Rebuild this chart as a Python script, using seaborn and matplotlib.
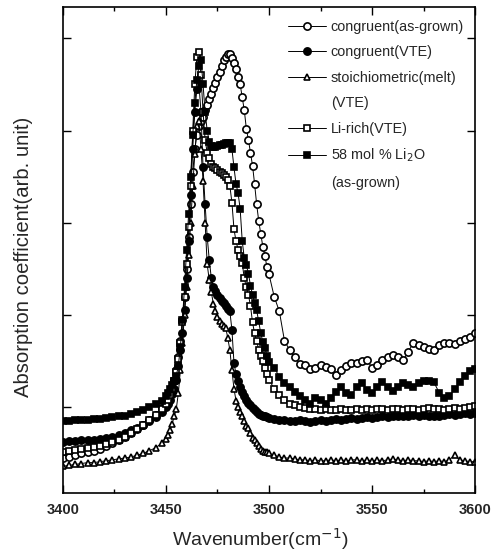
import numpy as np
import pandas as pd
import matplotlib
matplotlib.use("Agg")
import matplotlib.pyplot as plt
from matplotlib.lines import Line2D
import seaborn as sns

# Wavenumber sampling: coarse on the flat wings, dense across the OH band
wn_left = np.arange(3400, 3449, 3.0)      # 3400 ... 3448
wn_peak = np.arange(3450, 3500, 1.0)      # 3450 ... 3499
wn_right = np.arange(3500, 3600.1, 2.5)   # 3500 ... 3600
wavenumber = np.concatenate([wn_left, wn_peak, wn_right])

congruent_asgrown = [
    0.45, 0.46, 0.48, 0.50, 0.52, 0.53, 0.55, 0.58, 0.61, 0.64, 0.68, 0.72, 0.76, 0.81, 0.86, 0.92, 0.99,
    1.05, 1.10, 1.15, 1.22, 1.30, 1.40, 1.55, 1.72, 1.95, 2.20,
    2.50, 2.85, 3.20, 3.55, 3.80, 3.95, 4.05, 4.10, 4.15, 4.22,
    4.28, 4.34, 4.40, 4.46, 4.52, 4.58, 4.64, 4.70, 4.76, 4.80,
    4.83, 4.83, 4.79, 4.73, 4.67, 4.58, 4.50, 4.36, 4.22, 4.02,
    3.90, 3.76, 3.62, 3.42, 3.20, 3.02, 2.88, 2.74, 2.64, 2.52,
    2.44, 2.20, 2.04, 1.72, 1.62, 1.54, 1.47, 1.46, 1.42, 1.43,
    1.46, 1.44, 1.41, 1.35, 1.40, 1.45, 1.48, 1.48,
    1.50, 1.51, 1.43, 1.46, 1.51, 1.55, 1.57, 1.54,
    1.51, 1.60, 1.70, 1.68, 1.65, 1.63, 1.62, 1.67,
    1.70, 1.70, 1.69, 1.72, 1.74, 1.76, 1.80,
]

congruent_vte = [
    0.62, 0.63, 0.63, 0.64, 0.64, 0.65, 0.66, 0.67, 0.68, 0.70, 0.72, 0.75, 0.78, 0.81, 0.85, 0.89, 0.95,
    1.00, 1.04, 1.08, 1.14, 1.20, 1.30, 1.45, 1.62, 1.80, 2.05,
    2.40, 2.80, 3.30, 3.80, 4.20, 4.45, 4.50, 4.20, 3.60, 3.20,
    2.85, 2.60, 2.40, 2.30, 2.26, 2.22, 2.18, 2.15, 2.13, 2.10,
    2.07, 2.04, 1.84, 1.48, 1.36, 1.28, 1.22, 1.17, 1.12, 1.08,
    1.05, 1.02, 0.99, 0.97, 0.95, 0.93, 0.92, 0.91, 0.90, 0.89,
    0.88, 0.87, 0.86, 0.86, 0.85, 0.85, 0.86, 0.85, 0.84, 0.85,
    0.86, 0.85, 0.86, 0.87, 0.86, 0.87, 0.88, 0.87,
    0.88, 0.89, 0.88, 0.89, 0.90, 0.89, 0.90, 0.91,
    0.90, 0.91, 0.92, 0.91, 0.92, 0.91, 0.90, 0.91,
    0.92, 0.93, 0.92, 0.93, 0.94, 0.93, 0.94,
]

stoichiometric_vte = [
    0.36, 0.37, 0.38, 0.39, 0.40, 0.40, 0.41, 0.42, 0.43, 0.44, 0.45, 0.46, 0.48, 0.50, 0.53, 0.56, 0.61,
    0.66, 0.70, 0.75, 0.82, 0.90, 0.98, 1.15, 1.40, 1.70, 2.00,
    2.30, 2.65, 3.00, 3.40, 3.75, 4.05, 4.10, 3.80, 3.45, 3.00,
    2.55, 2.38, 2.25, 2.12, 2.04, 1.98, 1.93, 1.90, 1.88, 1.86,
    1.75, 1.62, 1.40, 1.20, 1.07, 1.00, 0.95, 0.90, 0.85, 0.80,
    0.77, 0.72, 0.67, 0.64, 0.61, 0.58, 0.55, 0.53, 0.52, 0.51,
    0.50, 0.48, 0.46, 0.45, 0.45, 0.44, 0.43, 0.43, 0.42, 0.43,
    0.42, 0.42, 0.43, 0.42, 0.43, 0.42, 0.43, 0.43,
    0.42, 0.43, 0.42, 0.43, 0.42, 0.43, 0.44, 0.43,
    0.42, 0.43, 0.42, 0.42, 0.41, 0.42, 0.41, 0.42,
    0.41, 0.43, 0.48, 0.43, 0.42, 0.41, 0.41,
]

li_rich_vte = [
    0.52, 0.53, 0.54, 0.55, 0.56, 0.57, 0.58, 0.60, 0.62, 0.65, 0.68, 0.72, 0.76, 0.81, 0.86, 0.92, 0.98,
    1.03, 1.08, 1.13, 1.20, 1.28, 1.38, 1.52, 1.70, 1.92, 2.20,
    2.55, 2.95, 3.40, 4.00, 4.50, 4.80, 4.85, 4.60, 4.20, 3.90,
    3.76, 3.70, 3.64, 3.61, 3.59, 3.57, 3.55, 3.54, 3.52, 3.50,
    3.46, 3.40, 3.22, 2.93, 2.80, 2.71, 2.64, 2.56, 2.40, 2.30,
    2.22, 2.10, 1.92, 1.80, 1.72, 1.62, 1.56, 1.50, 1.43, 1.36,
    1.30, 1.20, 1.13, 1.08, 1.04, 1.02, 1.00, 0.99, 0.98, 0.98,
    0.97, 0.98, 0.97, 0.97, 0.98, 0.97, 0.97, 0.98,
    0.97, 0.98, 0.97, 0.98, 0.98, 0.97, 0.98, 0.98,
    0.97, 0.98, 0.98, 0.97, 0.98, 0.99, 0.98, 0.98,
    0.97, 0.98, 0.99, 0.98, 0.99, 1.00, 1.01,
]

li2o_58_asgrown = [
    0.85, 0.85, 0.86, 0.86, 0.86, 0.87, 0.87, 0.88, 0.89, 0.90, 0.91, 0.93, 0.95, 0.97, 1.00, 1.03, 1.07,
    1.12, 1.16, 1.20, 1.24, 1.28, 1.34, 1.45, 1.65, 1.95, 2.30,
    2.70, 3.10, 3.50, 3.95, 4.30, 4.55, 4.70, 4.77, 4.50, 4.20,
    4.00, 3.88, 3.83, 3.82, 3.82, 3.83, 3.84, 3.84, 3.85, 3.86,
    3.87, 3.87, 3.80, 3.60, 3.42, 3.32, 3.15, 2.80, 2.62, 2.54,
    2.45, 2.32, 2.22, 2.13, 2.05, 1.93, 1.80, 1.71, 1.64, 1.56,
    1.49, 1.43, 1.33, 1.26, 1.22, 1.17, 1.12, 1.08, 1.04, 1.10,
    1.08, 1.04, 1.10, 1.17, 1.22, 1.15, 1.13, 1.22,
    1.26, 1.19, 1.15, 1.22, 1.27, 1.22, 1.18, 1.22,
    1.26, 1.24, 1.22, 1.26, 1.29, 1.28, 1.27, 1.16,
    1.10, 1.12, 1.20, 1.27, 1.34, 1.39, 1.42,
]

labels = [
    "congruent(as-grown)",
    "congruent(VTE)",
    "stoichiometric(melt)",
    "Li-rich(VTE)",
    "58 mol % Li$_2$O",
]
# second text line printed under some legend entries
label_continuation = {2: "(VTE)", 4: "(as-grown)"}

series = [congruent_asgrown, congruent_vte, stoichiometric_vte, li_rich_vte, li2o_58_asgrown]
markers = ["o", "o", "^", "s", "s"]
faces = ["white", "black", "white", "white", "black"]
msizes = [5.2, 5.2, 4.8, 4.6, 5.0]

frames = []
for lab, vals in zip(labels, series):
    frames.append(pd.DataFrame({"wavenumber": wavenumber, "absorption": vals, "sample": lab}))
df = pd.concat(frames, ignore_index=True)

sns.set_theme(style="ticks")
plt.rcParams["font.family"] = ["Liberation Sans", "DejaVu Sans"]

fig = plt.figure(figsize=(4.95, 5.59), dpi=100)
ax = fig.add_axes([0.127, 0.118, 0.833, 0.8695])

for lab, mk, fc, ms in zip(labels, markers, faces, msizes):
    sub = df[df["sample"] == lab]
    sns.lineplot(
        data=sub, x="wavenumber", y="absorption", ax=ax,
        estimator=None, sort=False, color="black", linewidth=0.7,
        marker=mk, markersize=ms, markerfacecolor=fc,
        markeredgecolor="black", markeredgewidth=1.2, label=lab,
    )

ax.set_xlim(3400, 3600)
ax.set_ylim(0.07, 5.34)
ax.set_xticks([3400, 3450, 3500, 3550, 3600])
ax.set_xticks(np.arange(3425, 3600, 50), minor=True)
ax.set_yticks([1, 2, 3, 4, 5])
ax.set_yticklabels([])
ax.tick_params(which="both", direction="in", top=True, right=True, color="black")
ax.tick_params(which="major", length=6, width=1.0)
ax.tick_params(which="minor", length=3, width=1.0)
ax.tick_params(axis="x", which="major", labelsize=10.5, pad=7)
for t in ax.get_xticklabels():
    t.set_fontweight("bold")
for sp in ax.spines.values():
    sp.set_linewidth(1.2)
    sp.set_color("black")

ax.set_xlabel("Wavenumber(cm$^{-1}$)", fontsize=14)
ax.set_ylabel("Absorption coefficient(arb. unit)", fontsize=14.6)
ax.xaxis.set_label_coords(0.478, -0.068)
ax.yaxis.set_label_coords(-0.072, 0.485)

# legend with wrapped labels: continuation lines get an empty handle
handles, hlabels = ax.get_legend_handles_labels()
leg_handles, leg_labels = [], []
for i, (h, l) in enumerate(zip(handles, hlabels)):
    leg_handles.append(h)
    leg_labels.append(l)
    if i in label_continuation:
        leg_handles.append(Line2D([], [], linestyle="none", marker=None))
        leg_labels.append(label_continuation[i])

ax.legend(
    leg_handles, leg_labels,
    loc="upper left", bbox_to_anchor=(0.515, 1.0), frameon=False,
    handlelength=2.6, handletextpad=0.35, labelspacing=0.79,
    prop={"size": 10.4},
)

fig.savefig("out.png", dpi=100)
